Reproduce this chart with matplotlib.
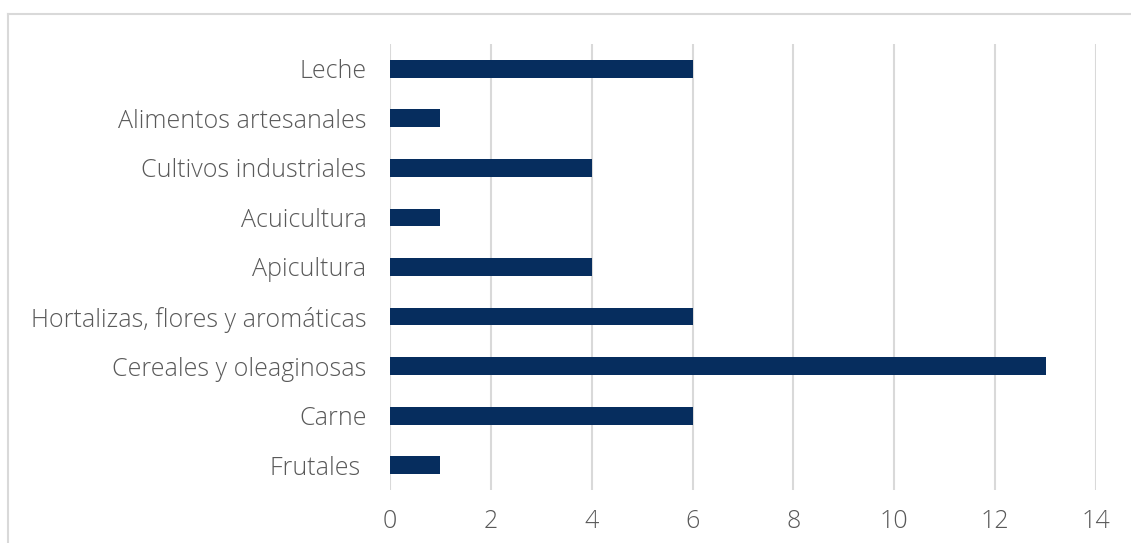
import matplotlib
matplotlib.use("Agg")
import matplotlib.pyplot as plt
from matplotlib.lines import Line2D

categories = ["Leche", "Alimentos artesanales", "Cultivos industriales", "Acuicultura",
              "Apicultura", "Hortalizas, flores y aromáticas", "Cereales y oleaginosas",
              "Carne", "Frutales "]
values = [6, 1, 4, 1, 4, 6, 13, 6, 1]
x_ticks = [0, 2, 4, 6, 8, 10, 12, 14]

W, H = 1131, 543
fig = plt.figure(figsize=(W / 100, H / 100), dpi=100)
fig.patch.set_facecolor("white")

# outer chart frame (top and left edges visible)
frame_col = "#D9D9D9"
fig.add_artist(Line2D([8 / W, 8 / W], [0, 1 - 14 / H], transform=fig.transFigure,
                      color=frame_col, lw=1.5))
fig.add_artist(Line2D([8 / W, 1], [1 - 14 / H, 1 - 14 / H], transform=fig.transFigure,
                      color=frame_col, lw=1.5))

ax = fig.add_axes([390 / W, 1 - 490 / H, (1096 - 390) / W, (490 - 44) / H])
y = list(range(len(categories)))
ax.barh(y, values, height=0.36, color="#062D5E", zorder=3)
ax.set_ylim(len(categories) - 0.5, -0.5)
ax.set_xlim(0, 14)
ax.set_xticks(x_ticks)
ax.set_yticks(y)
ax.set_yticklabels(categories)

for s in ax.spines.values():
    s.set_visible(False)
ax.grid(axis="x", color="#D9D9D9", lw=1.5, zorder=0)
ax.tick_params(axis="both", length=0, colors="#595959", labelsize=18)
ax.tick_params(axis="y", pad=17)
ax.tick_params(axis="x", pad=14)
for lbl in ax.get_xticklabels() + ax.get_yticklabels():
    lbl.set_fontfamily("Open Sans")
    lbl.set_fontweight("light")
    lbl.set_color("#595959")

fig.savefig("out.png", dpi=100, facecolor="white")
